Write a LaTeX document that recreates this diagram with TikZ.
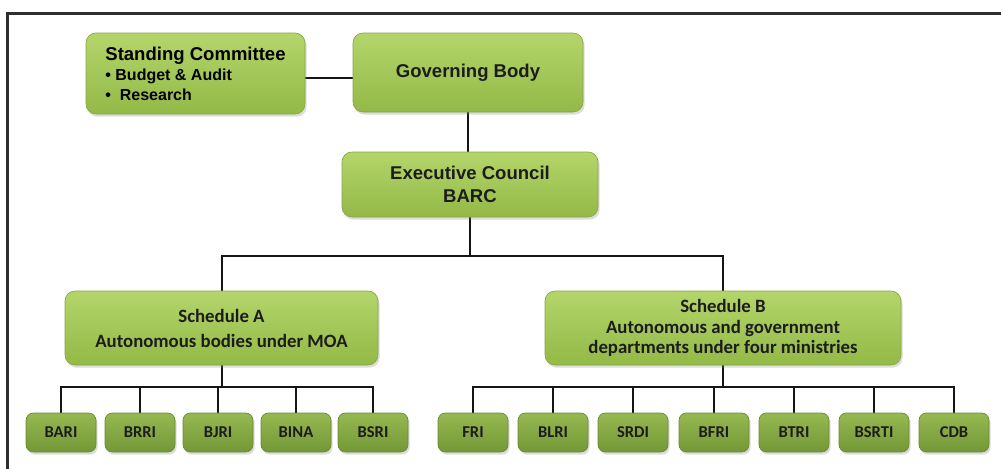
\documentclass[tikz,border=0pt]{standalone}
\usepackage{fontspec}
\setmainfont{Liberation Sans}
\newfontfamily\carlito{Carlito}
\usetikzlibrary{shadows,backgrounds}
\definecolor{topg}{HTML}{B4D56A}
\definecolor{botg}{HTML}{93B947}
\definecolor{edgeg}{HTML}{86A842}
\definecolor{stopg}{HTML}{97B851}
\definecolor{sbotg}{HTML}{739837}
\definecolor{sedgeg}{HTML}{6A8B2F}
\definecolor{txt}{HTML}{1C1C1C}
\definecolor{lnc}{HTML}{151515}
\definecolor{frm}{HTML}{2E2E2E}
\begin{document}
\begin{tikzpicture}[x=0.75pt,y=-0.75pt,
  bigbox/.style={rounded corners=7.5pt, top color=topg, bottom color=botg,
    draw=edgeg, line width=0.5pt, inner sep=0pt, align=center, text=txt,
    drop shadow={opacity=0.28, shadow xshift=1.2pt, shadow yshift=-2pt}},
  arialtext/.style={font=\fontsize{13.9}{17}\selectfont\bfseries},
  calitext/.style={font=\carlito\fontsize{14.1}{15.4}\selectfont\bfseries},
  smallbox/.style={rounded corners=5.5pt, top color=stopg, bottom color=sbotg,
    draw=sedgeg, line width=0.5pt, inner sep=0pt, text=txt,
    minimum width=52.5pt, minimum height=29.25pt,
    font=\carlito\fontsize{12.4}{14}\selectfont\bfseries,
    drop shadow={opacity=0.28, shadow xshift=1.2pt, shadow yshift=-2pt}},
  conn/.style={draw=lnc, line width=1.5pt}
]
\useasboundingbox (0,0) rectangle (1003,468);
\draw[frm, line width=1.6pt] (7.5,470) -- (7.5,13.5) -- (1001,13.5);

% top level
\node[bigbox, minimum width=164.25pt, minimum height=60.75pt, align=left,
  font=\fontsize{13.9}{16.3}\selectfont\bfseries, text=black] (sc) at (195.5,73.5)
  {Standing Committee\\[-0.6pt]{\fontsize{12}{14}\selectfont\textbullet\ Budget \& Audit}\\[-1.8pt]{\fontsize{12}{14}\selectfont\textbullet\ \ Research}};
\node[bigbox, arialtext, minimum width=172.5pt, minimum height=59.25pt] (gb) at (468,72.5) {Governing Body};
\node[bigbox, arialtext, minimum width=192pt, minimum height=48.75pt] (ec) at (470,184.5) {Executive Council\\BARC};

% schedules
\node[bigbox, font=\carlito\fontsize{14.1}{18.75}\selectfont\bfseries, minimum width=234.75pt, minimum height=55.5pt] (scha) at (221.5,328) {Schedule A\\Autonomous bodies under MOA};
\node[bigbox, calitext, minimum width=267pt, minimum height=55.5pt] (schb) at (723,328) {Schedule B\\Autonomous and government\\departments under four ministries};

% institutes
\foreach \n/\x in {BARI/61, BRRI/140, BJRI/218, BINA/296, BSRI/373}
  \node[smallbox] (\n) at (\x,432.5) {\n};
\foreach \n/\x in {FRI/473, BLRI/553, SRDI/633, BFRI/714, BTRI/794, BSRTI/874, CDB/954}
  \node[smallbox] (\n) at (\x,432.5) {\n};

\coordinate (bustop) at (ec.south |- 0,256);
\coordinate (busA) at (scha.south |- 0,387);
\coordinate (busB) at (schb.south |- 0,387);

\begin{scope}[on background layer]
\draw[conn] (sc.east |- 0,78) -- (gb.west |- 0,78);
\draw[conn] (gb.south) -- (gb.south |- ec.north);
\draw[conn] (ec.south) -- (bustop);
\draw[conn] (scha.north) |- (bustop) -| (schb.north);
\draw[conn] (scha.south) -- (busA);
\draw[conn] (schb.south) -- (busB);
\foreach \n in {BARI, BRRI, BJRI, BINA, BSRI}
  \draw[conn] (busA) -| (\n.north);
\foreach \n in {FRI, BLRI, SRDI, BFRI, BTRI, BSRTI, CDB}
  \draw[conn] (busB) -| (\n.north);
\end{scope}
\end{tikzpicture}
\end{document}
